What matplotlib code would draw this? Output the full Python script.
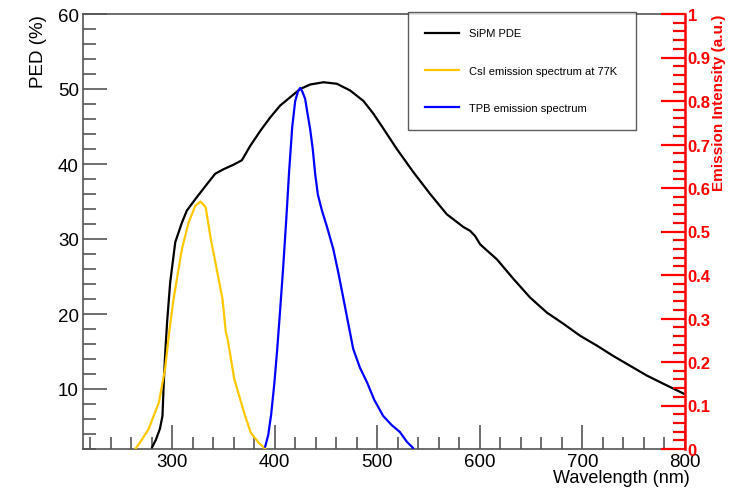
import numpy as np
import matplotlib
matplotlib.use("Agg")
import matplotlib.pyplot as plt
from matplotlib.ticker import MultipleLocator
from matplotlib.lines import Line2D

plt.rcParams['font.family'] = ['Liberation Sans', 'DejaVu Sans']

# ---------------- data ----------------
pde_wl = [280.2, 284, 288, 290.5, 291.5, 293, 295, 298, 303, 309.5, 314.3, 324.1,
          333.8, 341.9, 350, 359.7, 367.9, 376, 385.8, 395.5, 405.3, 415, 424.8,
          434.5, 447.5, 460.5, 473.5, 486.5, 496.2, 506, 519, 535.2, 551.5, 567.7,
          583.9, 590.4, 595.3, 600.2, 605, 616.5, 632.6, 648.9, 665.2, 681.4, 697.7,
          713.9, 730.1, 746.4, 762.7, 778.9, 800]
pde_val = [2.2, 3.2, 4.7, 6.4, 10.0, 14.4, 18.9, 24.2, 29.6, 32.2, 33.8, 35.6,
           37.3, 38.7, 39.3, 39.9, 40.5, 42.4, 44.4, 46.2, 47.8, 48.9, 50.0,
           50.6, 50.9, 50.7, 49.8, 48.4, 46.7, 44.7, 42.0, 38.9, 36.0, 33.3,
           31.6, 31.1, 30.4, 29.3, 28.7, 27.3, 24.7, 22.2, 20.2, 18.7, 17.1,
           15.8, 14.4, 13.1, 11.8, 10.7, 9.3]

csi_wl = [264, 270, 277, 287, 293, 297, 301.3, 309.5, 316, 322.5, 327.5, 332.6,
          337.6, 344, 349, 352.3, 354, 360.5, 370, 376.5, 384, 391]
csi_val = [0.0, 0.02, 0.046, 0.107, 0.184, 0.268, 0.345, 0.46, 0.521, 0.559, 0.569, 0.556,
           0.483, 0.406, 0.345, 0.268, 0.253, 0.161, 0.084, 0.038, 0.015, 0.0]

tpb_wl = [390.6, 393.6, 396.5, 399.5, 402.4, 405.3, 408.2, 411.1, 414.0, 417.0,
          419.9, 422.8, 424.8, 426.8, 429.6, 432, 434.5, 437, 439.4, 442, 446,
          451, 457, 462, 467, 471.5, 476.5, 483, 489.8, 497, 505.7, 514, 522,
          529, 535]
tpb_val = [0.005, 0.032, 0.080, 0.149, 0.230, 0.322, 0.418, 0.524, 0.639, 0.740,
           0.800, 0.823, 0.830, 0.822, 0.805, 0.770, 0.735, 0.690, 0.632, 0.585, 0.548,
           0.510, 0.460, 0.405, 0.345, 0.290, 0.230, 0.187, 0.154, 0.113, 0.076, 0.055,
           0.039, 0.016, 0.002]

legend_labels = ["SiPM PDE", "CsI emission spectrum at 77K", "TPB emission spectrum"]

RED = "#ff0000"
YELLOW = "#ffc800"
BLUE = "#0000ff"
GREY = "#555555"

# ---------------- figure ----------------
fig = plt.figure(figsize=(7.32, 4.89), dpi=100)
ax = fig.add_axes([83 / 732, 1 - 450 / 489, 602 / 732, 435 / 489])
ax2 = ax.twinx()

line_kw = dict(lw=1.6, solid_joinstyle="round", solid_capstyle="round")
ax.plot(pde_wl, pde_val, color="black", zorder=3, **line_kw)
ax2.plot(csi_wl, csi_val, color=YELLOW, **line_kw)
ax2.plot(tpb_wl, tpb_val, color=BLUE, **line_kw)

ax.set_xlim(213, 800)
ax.set_ylim(2, 60)
ax2.set_ylim(0, 1)

# left / bottom axes, ROOT-like inward ticks
ax.xaxis.set_major_locator(MultipleLocator(100))
ax.xaxis.set_minor_locator(MultipleLocator(20))
ax.yaxis.set_major_locator(MultipleLocator(10))
ax.yaxis.set_minor_locator(MultipleLocator(2))
ax.tick_params(which="both", direction="in", color=GREY, width=1.2,
               top=False, right=False, labelsize=13.5)
ax.tick_params(axis="y", pad=3)
ax.tick_params(axis="x", pad=3)
ax.tick_params(which="major", length=17)
ax.tick_params(which="minor", length=9)
ax.set_yticks([10, 20, 30, 40, 50, 60])
for s in ["left", "bottom", "top"]:
    ax.spines[s].set_color(GREY)
    ax.spines[s].set_linewidth(1.2)
ax.spines["right"].set_visible(False)

# right axis in red
ax2.yaxis.set_major_locator(MultipleLocator(0.1))
ax2.yaxis.set_minor_locator(MultipleLocator(0.02))
ax2.tick_params(which="both", direction="in", color=RED, width=1.6,
                labelcolor=RED, labelsize=12, pad=2)
ax2.tick_params(which="major", length=17)
ax2.tick_params(which="minor", length=9)
ax2.set_yticks(np.round(np.arange(0, 1.01, 0.1), 1))
ax2.set_yticklabels(["0"] + [f"{v:.1f}" for v in np.arange(0.1, 0.95, 0.1)] + ["1"])
for lab in ax2.get_yticklabels():
    lab.set_fontweight("bold")
for s in ["left", "bottom", "top"]:
    ax2.spines[s].set_visible(False)
ax2.spines["right"].set_color(RED)
ax2.spines["right"].set_linewidth(1.8)

# axis titles aligned to the axis ends
ax.set_xlabel("Wavelength (nm)", fontsize=13, ha="right", va="top")
ax.xaxis.set_label_coords(1.008, -0.046)
ax.set_ylabel("PED (%)", fontsize=13.5, ha="right")
ax.yaxis.set_label_coords(-0.06, 1.0)
ax2.set_ylabel("Emission Intensity (a.u.)", fontsize=11, color=RED,
               fontweight="bold", ha="right")
ax2.yaxis.set_label_coords(1.045, 1.0)

handles = [Line2D([], [], color="black", lw=1.6),
           Line2D([], [], color=YELLOW, lw=1.6),
           Line2D([], [], color=BLUE, lw=1.6)]
leg = ax2.legend(handles, legend_labels, loc="upper left",
                 bbox_to_anchor=(0.54, 0.74, 0.378, 0.265), mode="expand",
                 fontsize=8, frameon=True, fancybox=False, borderaxespad=0,
                 handlelength=3.1, handletextpad=0.9, labelspacing=2.45,
                 borderpad=1.5)
leg.get_frame().set_edgecolor("#333333")
leg.get_frame().set_linewidth(1.0)

fig.savefig("out.png", dpi=100)
